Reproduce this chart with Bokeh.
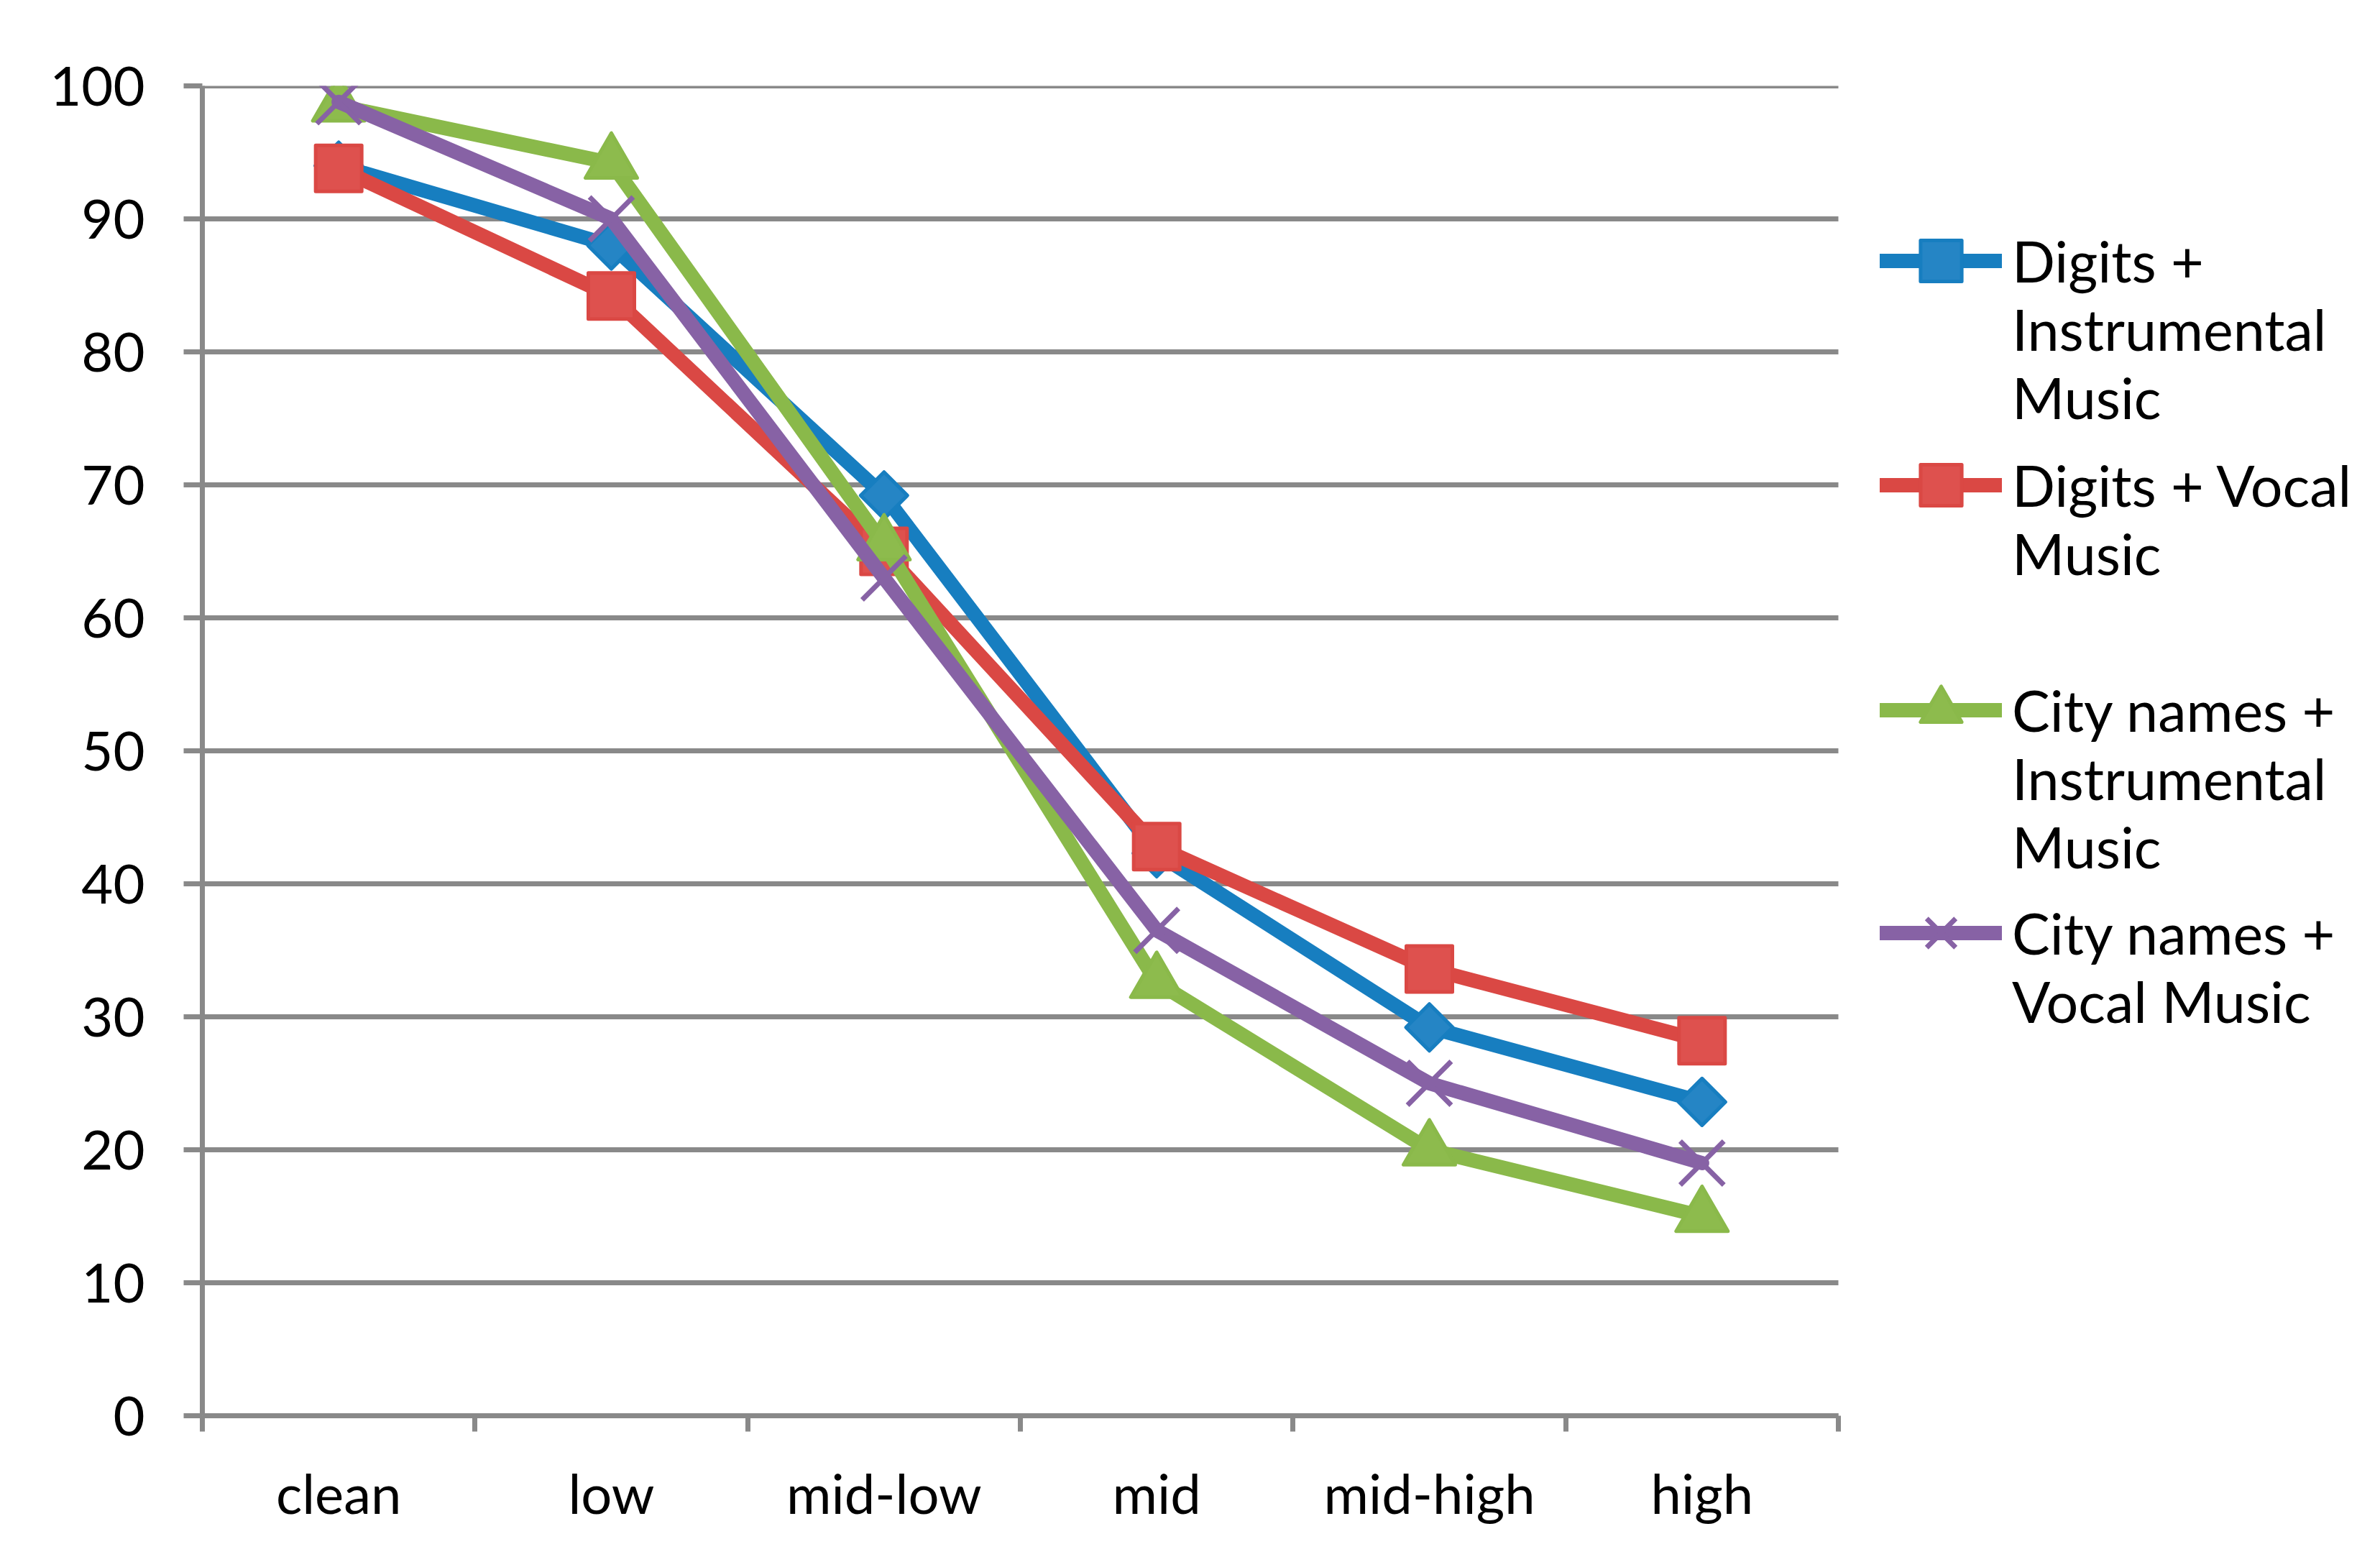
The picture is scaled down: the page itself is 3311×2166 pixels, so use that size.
from bokeh.plotting import figure
from bokeh.models import FixedTicker, Legend, LegendItem, Range1d
from bokeh.embed import file_html
from bokeh.resources import INLINE

categories = ["clean", "low", "mid-low", "mid", "mid-high", "high"]
digits_instr = [94.0, 88.0, 69.2, 42.3, 29.2, 23.6]
digits_vocal = [93.8, 84.2, 65.0, 42.8, 33.6, 28.2]
city_instr = [98.5, 94.2, 65.5, 32.6, 20.0, 15.0]
city_vocal = [98.8, 90.0, 63.0, 36.5, 25.0, 19.0]
y_ticks = list(range(0, 101, 10))
series_lines = [["Digits +", "Instrumental", "Music"],
                ["Digits + Vocal", "Music"],
                ["City names +", "Instrumental", "Music"],
                ["City names +", "Vocal Music"]]

FONT = "Lato"
GRAY = "#898989"

# layout (pixels)
W, H = 3295, 2150
LEFT, TOP, BOTTOM = 281, 119, 181
PLOT_W = 2276                      # width of the category area
FRAME_W = W - LEFT
FRAME_H = H - TOP - BOTTOM
LINE_H = 95                        # legend text line height
LEG_X = 2334                       # legend left, from frame left
LEG_CENTERS = [362, 674, 987, 1297]  # first text line centres (from top of figure)

n = len(categories)
xs = [i + 0.5 for i in range(n)]

p = figure(width=W, height=H, output_backend="svg", toolbar_location=None,
           x_range=Range1d(0, n * FRAME_W / PLOT_W), y_range=Range1d(0, 100),
           min_border_left=LEFT, min_border_right=0, min_border_top=TOP,
           min_border_bottom=BOTTOM)
p.outline_line_color = None
p.background_fill_color = "white"
p.border_fill_color = "white"
p.xgrid.visible = False
p.ygrid.visible = False

# horizontal gridlines limited to the category area
p.segment(x0=[0] * len(y_ticks), x1=[n] * len(y_ticks), y0=y_ticks, y1=y_ticks,
          line_color=GRAY, line_width=7)

ya = p.yaxis[0]
ya.ticker = FixedTicker(ticks=y_ticks)
ya.axis_line_color = GRAY
ya.axis_line_width = 7
ya.major_tick_line_color = GRAY
ya.major_tick_line_width = 7
ya.major_tick_out = 26
ya.major_tick_in = 0
ya.minor_tick_line_color = None
ya.major_label_standoff = 54
ya.major_label_text_font = FONT
ya.major_label_text_font_size = "76px"
ya.major_label_text_color = "black"

xa = p.xaxis[0]
xa.bounds = (0, n)
xa.ticker = FixedTicker(ticks=xs, minor_ticks=list(range(n + 1)))
xa.major_label_overrides = {x: c for x, c in zip(xs, categories)}
xa.axis_line_color = GRAY
xa.axis_line_width = 7
xa.major_tick_line_color = None
xa.major_tick_out = 0
xa.major_tick_in = 0
xa.minor_tick_line_color = GRAY
xa.minor_tick_line_width = 7
xa.minor_tick_out = 22
xa.minor_tick_in = 0
xa.major_label_standoff = 39
xa.major_label_text_font = FONT
xa.major_label_text_font_size = "76px"
xa.major_label_text_color = "black"

styles = [
    (digits_instr, "#177EC0", "#2585C5", "square", 46, 0.785398),
    (digits_vocal, "#DA4844", "#DE514E", "square", 64, 0.0),
    (city_instr, "#8AB94A", "#8DBB4D", "triangle", 72, 0.0),
    (city_vocal, "#8762A5", "#8762A5", "x", 86, 0.0),
]

for (vals, lc, fc, marker, size, ang), lines, cy in zip(styles, series_lines, LEG_CENTERS):
    ln = p.line(xs, vals, line_color=lc, line_width=20, line_join="round", line_cap="round")
    if marker == "x":
        mk = p.scatter(xs, vals, marker="x", size=size, line_color=lc, line_width=7)
    else:
        mk = p.scatter(xs, vals, marker=marker, size=size, angle=ang, fill_color=fc,
                       line_color=lc, line_width=5, line_join="round")
    # pad with blank lines so that the glyph sits beside the first text line
    nl = len(lines)
    label = "\n".join([""] * (nl - 1) + lines)
    block_h = (2 * nl - 1) * LINE_H
    bottom = cy + block_h / 2
    leg = Legend(items=[LegendItem(label=label, renderers=[ln, mk])],
                 location=(LEG_X, TOP + FRAME_H - bottom))
    leg.border_line_color = None
    leg.background_fill_alpha = 0
    leg.padding = 0
    leg.margin = 0
    leg.spacing = 0
    leg.glyph_width = 170
    leg.glyph_height = 143
    leg.label_standoff = 14
    leg.label_text_font = FONT
    leg.label_text_font_size = "79px"
    leg.label_text_color = "black"
    p.add_layout(leg, "center")

open("out.html", "w").write(file_html(p, INLINE))
